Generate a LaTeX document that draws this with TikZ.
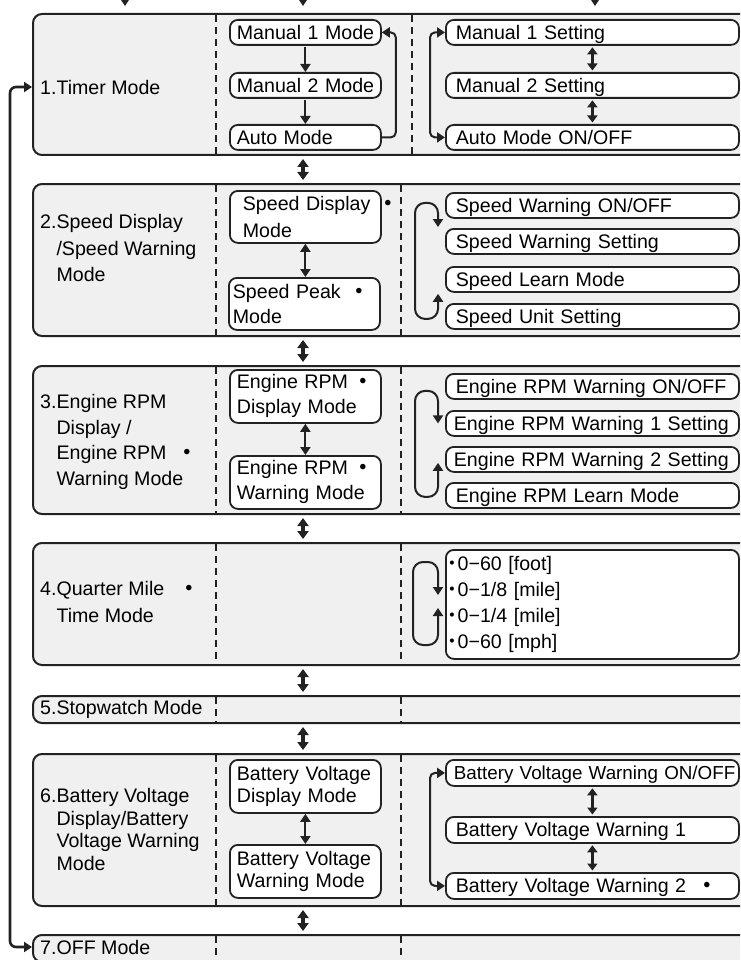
\documentclass[tikz,border=0pt]{standalone}
\usepackage{fontspec}
\setmainfont{Liberation Sans}
\newfontfamily\jpfont{Noto Sans CJK JP}
\usetikzlibrary{calc, arrows.meta}
\definecolor{ink}{HTML}{222222}
\definecolor{panelgray}{HTML}{F0F0F0}
\newcommand{\jdot}{{\jpfont\bfseries ・}}
\newcommand{\hdot}{{\jpfont\bfseries ･}}
\newcommand{\modelabel}[2]{#1\begin{tabular}[t]{@{}l@{}}#2\end{tabular}}

\tikzset{
  panel/.style={draw=ink, line width=2pt, fill=panelgray, rounded corners=9pt,
    anchor=north west, minimum width=740pt, inner sep=0pt},
  sepline/.style={draw=ink, line width=1.8pt, dash pattern=on 7pt off 5pt,
    shorten <=2pt, shorten >=2pt},
  modebox/.style={draw=ink, line width=1.8pt, fill=white, rounded corners=8pt,
    anchor=north west, align=left, inner xsep=7pt, inner ysep=0pt,
    text width=137pt, minimum height=25pt},
  setbox/.style={draw=ink, line width=1.8pt, fill=white, rounded corners=8pt,
    anchor=north west, align=left, inner xsep=10pt, inner ysep=0pt,
    text width=273pt, minimum height=25pt},
  oneline/.style={text height=13.8pt, text depth=0pt},
  linegap/.style={font=\fontsize{19.6}{#1}\selectfont},
  paneltext/.style={anchor=west, inner sep=0pt, align=left},
  arr/.style={draw=ink, line width=2pt, -{Triangle[length=8pt,width=10pt]}},
  dblarr/.style={draw=ink, line width=2pt,
    {Triangle[length=8pt,width=10pt]}-{Triangle[length=8pt,width=10pt]}},
  setarr/.style={draw=ink, line width=2.8pt,
    {Triangle[length=7pt,width=10pt]}-{Triangle[length=7pt,width=10pt]},
    shorten <=1.5pt, shorten >=1.5pt},
  hoparr/.style={draw=ink, line width=3.5pt,
    {Triangle[length=8pt,width=11pt]}-{Triangle[length=8pt,width=11pt]},
    shorten <=3pt, shorten >=3pt},
  railarr/.style={draw=ink, line width=2.6pt, rounded corners=6pt,
    {Triangle[length=8pt,width=10pt]}-{Triangle[length=8pt,width=10pt]}}
}

\begin{document}
\begin{tikzpicture}[x=1pt, y=-1pt, font=\fontsize{19.6}{25}\selectfont]
  \useasboundingbox (0,0) rectangle (740,960);
  \fill[white] (0,0) rectangle (740,960);
  \clip (0,0) rectangle (740,960);

  % mode panels
  \node[panel, minimum height=141pt] (p1) at (32,13) {};
  \node[panel, minimum height=152pt] (p2) at (32,183) {};
  \node[panel, minimum height=148pt] (p3) at (32,365) {};
  \node[panel, minimum height=122pt] (p4) at (32,542) {};
  \node[panel, minimum height=27pt] (p5) at (32,695) {};
  \node[panel, minimum height=152pt] (p6) at (32,753) {};
  \node[panel, minimum height=27pt] (p7) at (32,934) {};

  \coordinate (sepL) at (216,0);
  \coordinate (sepR) at (401,0);
  \coordinate (sepT) at (412,0);
  \draw[sepline] (p1.north -| sepL) -- (p1.south -| sepL);
  \draw[sepline] (p1.north -| sepT) -- (p1.south -| sepT);
  \foreach \p in {p2,p3,p4,p5,p6,p7} {
    \draw[sepline] (\p.north -| sepL) -- (\p.south -| sepL);
    \draw[sepline] (\p.north -| sepR) -- (\p.south -| sepR);
  }

  % panel titles
  \node[paneltext] (lbl1) at (40,87) {1.Timer Mode};
  \node[paneltext, linegap=26.5] (lbl2) at (40,250) {\modelabel{2.}{Speed Display\\/Speed Warning\\Mode}};
  \node[paneltext, linegap=25.7] (lbl3) at (40,442) {\modelabel{3.}{Engine RPM\\Display /\\Engine RPM\rlap{\hspace{11pt}\jdot}\\Warning Mode}};
  \node[paneltext, linegap=27] (lbl4) at (40,604) {\modelabel{4.}{Quarter Mile\rlap{\hspace{15pt}\jdot}\\Time Mode}};
  \node[paneltext] (lbl5) at (40,709) {5.Stopwatch Mode};
  \node[paneltext, linegap=22.7] (lbl6) at (40,832) {\modelabel{6.}{Battery Voltage\\Display/Battery\\Voltage Warning\\Mode}};
  \node[paneltext] (lbl7) at (40,947) {7.OFF Mode};

  % 1. timer
  \node[modebox, oneline] (mm1) at (229,19) {\mbox{Manual 1 Mode}};
  \node[modebox, oneline] (mm2) at (229,72) {\mbox{Manual 2 Mode}};
  \node[modebox, oneline] (mm3) at (229,124) {\mbox{Auto Mode}};
  \node[setbox, oneline] (ms1) at (445,19) {\mbox{Manual 1 Setting}};
  \node[setbox, oneline] (ms2) at (445,72) {\mbox{Manual 2 Setting}};
  \node[setbox, oneline] (ms3) at (445,124) {\mbox{Auto Mode ON/OFF}};
  \draw[arr, shorten <=1pt] (mm1) -- (mm2);
  \draw[arr, shorten <=1pt] (mm2) -- (mm3);
  \draw[arr, rounded corners=5pt] (mm3.east) -- ++(14,0) |- (mm1.east);
  \draw[dblarr, rounded corners=5pt] (ms1.west) -- ++(-15,0) |- (ms3.west);
  \draw[setarr] (ms1) -- (ms2);
  \draw[setarr] (ms2) -- (ms3);

  % 2. speed
  \node[modebox, minimum height=52pt, inner xsep=13pt, text width=125pt, linegap=27] (sd1) at (229,190) {\mbox{Speed Display}\rlap{\hspace{8pt}\jdot}\\Mode};
  \node[modebox, minimum height=52pt, inner xsep=4pt, text width=143pt, linegap=25] (sd2) at (228,277) {\mbox{Speed Peak}\rlap{\hspace{9pt}\jdot}\\Mode};
  \draw[dblarr] (sd1.south) -- (sd1.south |- sd2.north);
  \node[setbox, oneline] (sw1) at (445,192) {\mbox{Speed Warning ON/OFF}};
  \node[setbox, oneline] (sw2) at (445,228) {\mbox{Speed Warning Setting}};
  \node[setbox, oneline] (sw3) at (445,266) {\mbox{Speed Learn Mode}};
  \node[setbox, oneline] (sw4) at (445,303) {\mbox{Speed Unit Setting}};
  \draw[dblarr, rounded corners=10pt] ($(sw2.north west)+(-7,-1)$) -- ($(sw1.west)+(-7,-2.5)$)
    -- ($(sw1.west)+(-30,-2.5)$) -- ($(sw4.west)+(-30,2.5)$) -- ($(sw4.west)+(-7,2.5)$)
    -- ($(sw3.south west)+(-7,1)$);

  % 3. engine rpm
  \node[modebox, minimum height=53pt, linegap=25] (er1) at (229,369) {\mbox{Engine RPM}\rlap{\hspace{5pt}\jdot}\\\mbox{Display Mode}};
  \node[modebox, minimum height=53pt, linegap=25] (er2) at (229,455) {\mbox{Engine RPM}\rlap{\hspace{5pt}\jdot}\\\mbox{Warning Mode}};
  \draw[dblarr] (er1) -- (er2);
  \node[setbox, oneline] (ew1) at (445,373) {\mbox{Engine RPM Warning ON/OFF}};
  \node[setbox, oneline, inner xsep=8pt, text width=277pt] (ew2) at (445,410) {\mbox{Engine RPM Warning 1 Setting}};
  \node[setbox, oneline, inner xsep=8pt, text width=277pt] (ew3) at (445,446) {\mbox{Engine RPM Warning 2 Setting}};
  \node[setbox, oneline] (ew4) at (445,482) {\mbox{Engine RPM Learn Mode}};
  \draw[dblarr, rounded corners=10pt] ($(ew2.west)+(-7,0)$) -- ($(ew1.west)+(-7,4.5)$)
    -- ($(ew1.west)+(-30,4.5)$) -- ($(ew4.west)+(-30,1.5)$) -- ($(ew4.west)+(-7,1.5)$)
    -- ($(ew3.west)+(-7,3.5)$);

  % 4. quarter mile
  \node[setbox, inner xsep=2pt, text width=289pt, minimum height=109pt, linegap=26] (qm) at (445,549)
    {\hdot 0−60 [foot]\\\hdot 0−1/8 [mile]\\\hdot 0−1/4 [mile]\\\hdot 0−60 [mph]};
  \draw[dblarr, rounded corners=10pt] ($(qm.north west)+(-7,46)$) -- ($(qm.north west)+(-7,13)$)
    -- ($(qm.north west)+(-32,13)$) -- ($(qm.north west)+(-32,96)$) -- ($(qm.north west)+(-7,96)$)
    -- ($(qm.north west)+(-7,59)$);

  % 6. battery
  \node[modebox, minimum height=53pt, linegap=22] (bv1) at (229,759) {\mbox{Battery Voltage}\\\mbox{Display Mode}};
  \node[modebox, minimum height=53pt, linegap=22] (bv2) at (229,844) {\mbox{Battery Voltage}\\\mbox{Warning Mode}};
  \draw[dblarr] (bv1) -- (bv2);
  \node[setbox, oneline, minimum height=26pt, inner xsep=8pt, text width=277pt, font=\fontsize{18.8}{25}\selectfont] (bw1) at (445,759) {\mbox{Battery Voltage Warning ON/OFF}};
  \node[setbox, oneline, minimum height=26pt] (bw2) at (445,816) {\mbox{Battery Voltage Warning 1}};
  \node[setbox, oneline, minimum height=26pt] (bw3) at (445,872) {\mbox{Battery Voltage Warning 2}\rlap{\hspace{11pt}\jdot}};
  \draw[dblarr, rounded corners=5pt] (bw1.west) -- ++(-15,0) |- (bw3.west);
  \draw[setarr] (bw1) -- (bw2);
  \draw[setarr] (bw2) -- (bw3);

  % mode button path
  \coordinate (hopx) at (303,0);
  \foreach \a/\b in {p1/p2,p2/p3,p3/p4,p4/p5,p5/p6,p6/p7}
    \draw[hoparr] (\a.south -| hopx) -- (\b.north -| hopx);

  \coordinate (railx) at (10,0);
  \draw[railarr] (lbl1.west -| p1.west) -- (lbl1.west -| railx)
    -- (lbl7.west -| railx) -- (lbl7.west -| p7.west);

  % incoming from above
  \coordinate (in1) at (125,-14);
  \coordinate (in2) at (303,-14);
  \coordinate (in3) at (595,-14);
  \foreach \c in {in1,in2,in3}
    \draw[arr, line width=2.6pt, shorten >=7pt] (\c) -- (\c |- p1.north);
\end{tikzpicture}
\end{document}
